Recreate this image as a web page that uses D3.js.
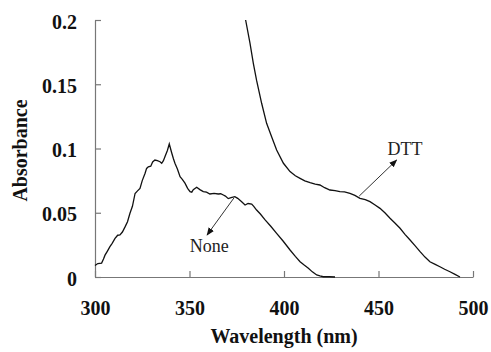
<!DOCTYPE html>
<html>
<head>
<meta charset="utf-8">
<script src="https://cdn.jsdelivr.net/npm/d3@7"></script>
<style>
  body { margin: 0; background: #fff; }
  svg { display: block; }
  text { font-family: "Liberation Serif", "Times New Roman", Times, "DejaVu Serif", serif; }
</style>
</head>
<body>
<div id="chart"></div>
<script>
// absorbance spectra
var noneWl  = [300, 301.5, 303.5, 304.5, 305.3, 306.5, 307.9, 309, 310.6, 312, 313.2, 314.5, 315.9, 317.2, 318.5, 319.8, 321.2, 322.5, 323.8, 325, 326.5, 327.3, 328.2, 329.5, 330.5, 331.7, 333, 334.4, 335.3, 336.2, 337, 338.3, 339.3, 340.6, 341.5, 342.3, 343.6, 345, 346.2, 347.6, 349, 350.3, 351.2, 352, 353.8, 355.5, 357.3, 359, 360.8, 363, 365.2, 366.5, 367.9, 369, 370.5, 372, 374, 375.5, 377.6, 379.4, 381, 382.9, 384, 385.5, 387.5, 390, 393, 396.1, 399.5, 403.2, 406, 408.5, 410.5, 412.9, 415, 417.3, 419, 420.8, 424, 427];
var noneAbs = [0.009, 0.0105, 0.0108, 0.014, 0.017, 0.02, 0.0236, 0.026, 0.030, 0.0325, 0.0327, 0.035, 0.039, 0.043, 0.0496, 0.055, 0.065, 0.067, 0.069, 0.075, 0.0807, 0.0845, 0.0858, 0.0862, 0.0895, 0.091, 0.0905, 0.0897, 0.0885, 0.0905, 0.0936, 0.0985, 0.1035, 0.0965, 0.092, 0.0885, 0.084, 0.078, 0.076, 0.073, 0.069, 0.0664, 0.066, 0.068, 0.0698, 0.068, 0.0664, 0.066, 0.0646, 0.065, 0.0646, 0.0648, 0.0638, 0.063, 0.061, 0.0618, 0.0625, 0.0612, 0.0586, 0.056, 0.0572, 0.0568, 0.055, 0.0521, 0.049, 0.0444, 0.0395, 0.034, 0.028, 0.021, 0.016, 0.0119, 0.0095, 0.0068, 0.004, 0.0016, 0.0008, 0.0002, 0.0002, 0];

var dttWl  = [379.7, 382, 383.8, 385.5, 388.2, 390.8, 393.5, 396.1, 399.7, 403.2, 406, 408.5, 411, 413.8, 416.5, 419, 421.5, 424.3, 427, 429.6, 432, 434.9, 437.5, 440.2, 443, 445.5, 448, 450.8, 453.5, 456.1, 458.8, 461.4, 464, 466.7, 469.3, 472, 474.6, 477.2, 480, 482.5, 485, 487.8, 490.5, 493.1];
var dttAbs = [0.2, 0.182, 0.166, 0.153, 0.135, 0.1196, 0.109, 0.0988, 0.0885, 0.082, 0.0788, 0.0768, 0.0748, 0.0734, 0.0722, 0.0716, 0.0695, 0.0677, 0.0672, 0.0664, 0.0662, 0.0651, 0.0635, 0.0612, 0.0602, 0.0586, 0.0562, 0.0534, 0.0498, 0.0457, 0.0418, 0.0379, 0.0332, 0.0288, 0.0244, 0.0197, 0.0155, 0.0119, 0.0098, 0.008, 0.006, 0.0041, 0.002, 0];

var xTicks = [300, 350, 400, 450, 500];
var yTicks = [0, 0.05, 0.1, 0.15, 0.2];
var yTickLabels = ["0", "0.05", "0.1", "0.15", "0.2"];

// annotations: label text position and arrow ends, in data units
var labelNames = ["None", "DTT"];
var labelPos = [[360.5, 0.0197], [464, 0.095]];
var arrowFrom = [[373.5, 0.0615], [439.8, 0.063]];
var arrowTo = [[359.3, 0.0327], [459.6, 0.091]];

var width = 491, height = 352;
var margin = { top: 20, right: 18, bottom: 75, left: 95 };
var w = width - margin.left - margin.right,
    h = height - margin.top - margin.bottom;

var svg = d3.select("#chart").append("svg")
    .attr("width", width)
    .attr("height", height);

var g = svg.append("g")
    .attr("transform", "translate(" + margin.left + "," + margin.top + ")");

var x = d3.scaleLinear().domain([300, 500]).range([0, w]);
var y = d3.scaleLinear().domain([0, 0.2]).range([h, 0]);

// axes with ticks pointing inward
var xAxis = g.append("g")
    .attr("font-family", null)
    .call(d3.axisBottom(x).tickValues(xTicks).tickSizeInner(-6).tickSizeOuter(0).tickFormat(d3.format("d")))
    .attr("transform", "translate(0," + h + ")");
xAxis.attr("font-family", null);
xAxis.selectAll("text")
    .attr("y", 38)
    .attr("dy", null)
    .style("font-weight", "bold")
    .style("font-size", "20px")
    .attr("fill", "#111");

var yAxis = g.append("g")
    .call(d3.axisLeft(y).tickValues(yTicks).tickSizeInner(-6).tickSizeOuter(0)
        .tickFormat(function (d, i) { return yTickLabels[i]; }));
yAxis.attr("font-family", null);
yAxis.selectAll("text")
    .attr("x", -18)
    .attr("dy", "0.4em")
    .style("font-weight", "bold")
    .style("font-size", "20px")
    .attr("fill", "#111");

g.selectAll(".domain, .tick line").attr("stroke", "#777").attr("stroke-width", 1.2);

// curves
var line = d3.line()
    .x(function (d) { return x(d[0]); })
    .y(function (d) { return y(d[1]); });

g.append("path")
    .datum(d3.zip(noneWl, noneAbs))
    .attr("fill", "none")
    .attr("stroke", "#111")
    .attr("stroke-width", 1.3)
    .attr("d", line);

g.append("path")
    .datum(d3.zip(dttWl, dttAbs))
    .attr("fill", "none")
    .attr("stroke", "#111")
    .attr("stroke-width", 1.3)
    .attr("d", line);

// arrowhead marker
svg.append("defs").append("marker")
    .attr("id", "head")
    .attr("viewBox", "0 0 10 10")
    .attr("refX", 9)
    .attr("refY", 5)
    .attr("markerWidth", 8)
    .attr("markerHeight", 8)
    .attr("markerUnits", "userSpaceOnUse")
    .attr("orient", "auto")
    .append("path")
    .attr("d", "M0,1 L10,5 L0,9 Z")
    .attr("fill", "#111");

labelNames.forEach(function (name, i) {
    g.append("line")
        .attr("x1", x(arrowFrom[i][0]))
        .attr("y1", y(arrowFrom[i][1]))
        .attr("x2", x(arrowTo[i][0]))
        .attr("y2", y(arrowTo[i][1]))
        .attr("stroke", "#333")
        .attr("stroke-width", 1)
        .attr("marker-end", "url(#head)");
    g.append("text")
        .attr("x", x(labelPos[i][0]))
        .attr("y", y(labelPos[i][1]))
        .attr("text-anchor", "middle")
        .style("font-size", "18px")
        .attr("fill", "#222")
        .text(name);
});

// axis titles
svg.append("text")
    .attr("x", margin.left + w / 2)
    .attr("y", 343)
    .attr("text-anchor", "middle")
    .style("font-weight", "bold")
    .style("font-size", "20px")
    .attr("fill", "#111")
    .text("Wavelength (nm)");

svg.append("text")
    .attr("transform", "translate(27," + (margin.top + h / 2 + 2) + ") rotate(-90)")
    .attr("text-anchor", "middle")
    .style("font-weight", "bold")
    .style("font-size", "20px")
    .attr("fill", "#111")
    .text("Absorbance");
</script>
</body>
</html>
